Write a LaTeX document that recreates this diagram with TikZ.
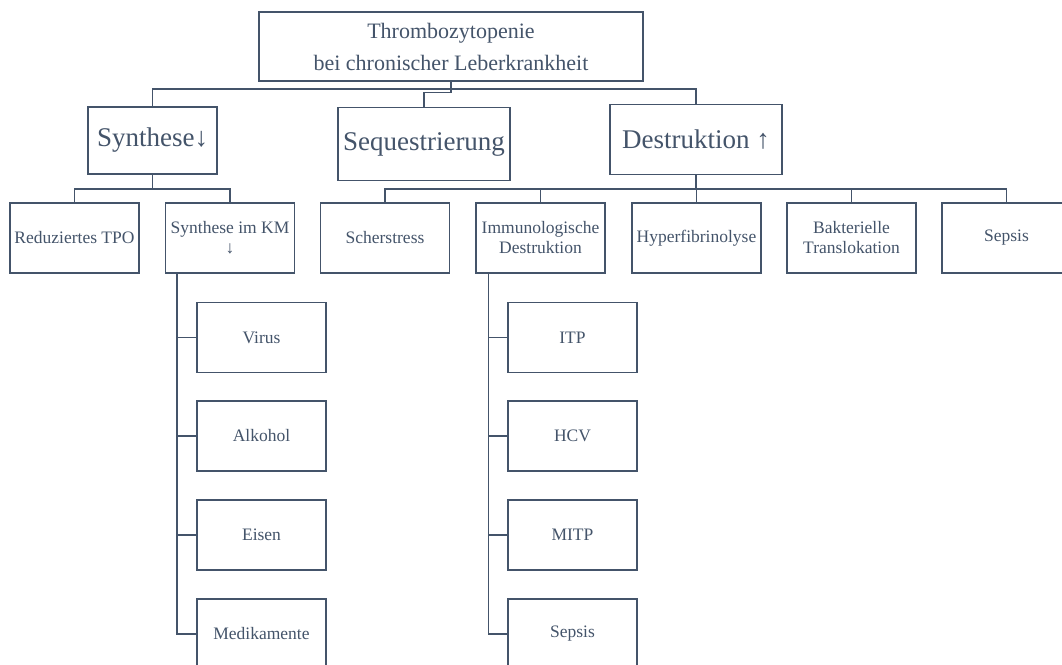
\documentclass[tikz,border=0pt]{standalone}
\usepackage{fontspec}
\setmainfont{Liberation Serif}
\usetikzlibrary{calc}
\definecolor{slate}{HTML}{44546A}
\tikzset{
  bx/.style={draw=slate, line width=1.3pt, text=slate, rectangle, inner sep=1pt, align=center, anchor=center},
  lv0/.style={bx, minimum width=384pt, minimum height=69pt, font=\fontsize{22}{32}\selectfont},
  lv1/.style={bx, minimum height=70pt, font=\fontsize{27}{32}\selectfont},
  lv2/.style={bx, minimum width=129pt, minimum height=70pt, font=\fontsize{17.5}{20}\selectfont},
  wire/.style={draw=slate, line width=1.3pt}
}
\begin{document}
\begin{tikzpicture}[x=1pt,y=-1pt]
\useasboundingbox (0,0) rectangle (1062,664);
\clip (0,0) rectangle (1062,664);
\fill[white] (0,0) rectangle (1062,664);
% level 0
\node[lv0] (top) at (451,46.5) {Thrombozytopenie\\bei chronischer Leberkrankheit};
% level 1
\node[lv1, minimum width=129pt, minimum height=67pt] (syn) at (152.5,140.5) {Synthese↓};
\node[lv1, minimum width=172pt, minimum height=73pt] (seq) at (424,144) {Sequestrierung};
\node[lv1, minimum width=172pt] (des) at (696,139.5) {Destruktion ↑};
% level 2
\node[lv2] (tpo) at (74.5,238) {Reduziertes TPO};
\node[lv2] (km) at (230,238) {Synthese im KM\\↓};
\node[lv2] (sch) at (385,238) {Scherstress};
\node[lv2] (imm) at (540.5,238) {Immunologische\\Destruktion};
\node[lv2] (hyp) at (696.5,238) {Hyperfibrinolyse};
\node[lv2] (bak) at (851.5,238) {Bakterielle\\Translokation};
\node[lv2] (sep) at (1006.5,238) {Sepsis};
% level 3 under KM
\node[lv2] (vir) at (261.5,337.5) {Virus};
\node[lv2] (alk) at (261.5,436) {Alkohol};
\node[lv2] (eis) at (261.5,535) {Eisen};
\node[lv2] (med) at (261.5,634) {Medikamente};
% level 3 under immunologische
\node[lv2] (itp) at (572.5,337.5) {ITP};
\node[lv2] (hcv) at (572.5,436) {HCV};
\node[lv2] (mitp) at (572.5,535) {MITP};
\node[lv2] (sep2) at (572.5,634) {Sepsis};
% connectors level 0-1
\coordinate (b1) at (451,89);
\draw[wire] (syn.north) |- (b1) -| (des.north);
\draw[wire] (top.south) -- ++(0,11) -| (seq.north);
% synthese children
\coordinate (b2) at (152.5,189);
\draw[wire] (syn.south) -- (b2);
\draw[wire] (tpo.north) |- (b2) -| (km.north);
% destruktion children
\coordinate (b3) at (696,189);
\draw[wire] (des.south) -- (b3);
\draw[wire] (sch.north) |- (b3) -| (sep.north);
\draw[wire] (imm.north) -- (imm.north |- b3);
\draw[wire] (hyp.north) -- (hyp.north |- b3);
\draw[wire] (bak.north) -- (bak.north |- b3);
% KM subtree
\coordinate (k0) at ($(km.south west)+(12,0)$);
\draw[wire] (k0) |- (med.west);
\foreach \n in {vir,alk,eis} \draw[wire] (\n.west) -- (\n.west -| k0);
% immun subtree
\coordinate (i0) at ($(imm.south west)+(13,0)$);
\draw[wire] (i0) |- (sep2.west);
\foreach \n in {itp,hcv,mitp} \draw[wire] (\n.west) -- (\n.west -| i0);
\end{tikzpicture}
\end{document}
